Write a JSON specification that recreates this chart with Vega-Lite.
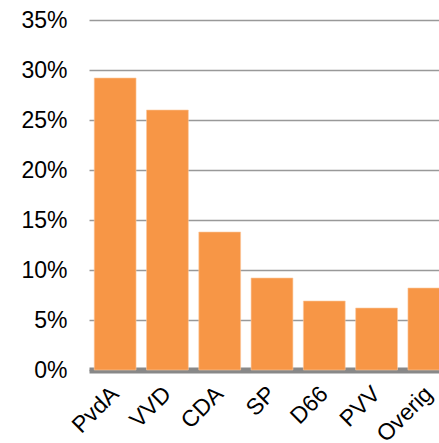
{
  "$schema": "https://vega.github.io/schema/vega-lite/v6.json",
  "autosize": {"type": "none"},
  "padding": {"left": 89, "top": 20, "right": 0, "bottom": 73},
  "width": 366,
  "height": 350,
  "background": "white",
  "data": {"values": [
    {"partij": "PvdA", "aandeel": 0.292},
    {"partij": "VVD", "aandeel": 0.260},
    {"partij": "CDA", "aandeel": 0.138},
    {"partij": "SP", "aandeel": 0.092},
    {"partij": "D66", "aandeel": 0.069},
    {"partij": "PVV", "aandeel": 0.062},
    {"partij": "Overig", "aandeel": 0.082}
  ]},
  "mark": {"type": "bar", "color": "#F79646", "stroke": "#FBC9A0", "strokeWidth": 0.6},
  "encoding": {
    "x": {
      "field": "partij", "type": "nominal", "sort": null,
      "scale": {"paddingInner": 0.2, "paddingOuter": 0.1},
      "axis": {
        "title": null, "labelAngle": -45, "labelAlign": "right", "labelBaseline": "middle",
        "labelFont": "Liberation Sans", "labelFontSize": 23, "labelColor": "#000",
        "labelPadding": 20, "ticks": false, "domainColor": "#888", "domainWidth": 6
      }
    },
    "y": {
      "field": "aandeel", "type": "quantitative",
      "scale": {"domain": [0, 0.35], "nice": false},
      "axis": {
        "title": null, "format": ".0%", "values": [0, 0.05, 0.1, 0.15, 0.2, 0.25, 0.3, 0.35],
        "labelFont": "Liberation Sans", "labelFontSize": 23, "labelColor": "#000",
        "labelPadding": 22, "ticks": false, "domain": false,
        "gridColor": "#999", "gridWidth": 1.5, "gridOpacity": 1
      }
    }
  },
  "config": {"view": {"stroke": null}}
}
